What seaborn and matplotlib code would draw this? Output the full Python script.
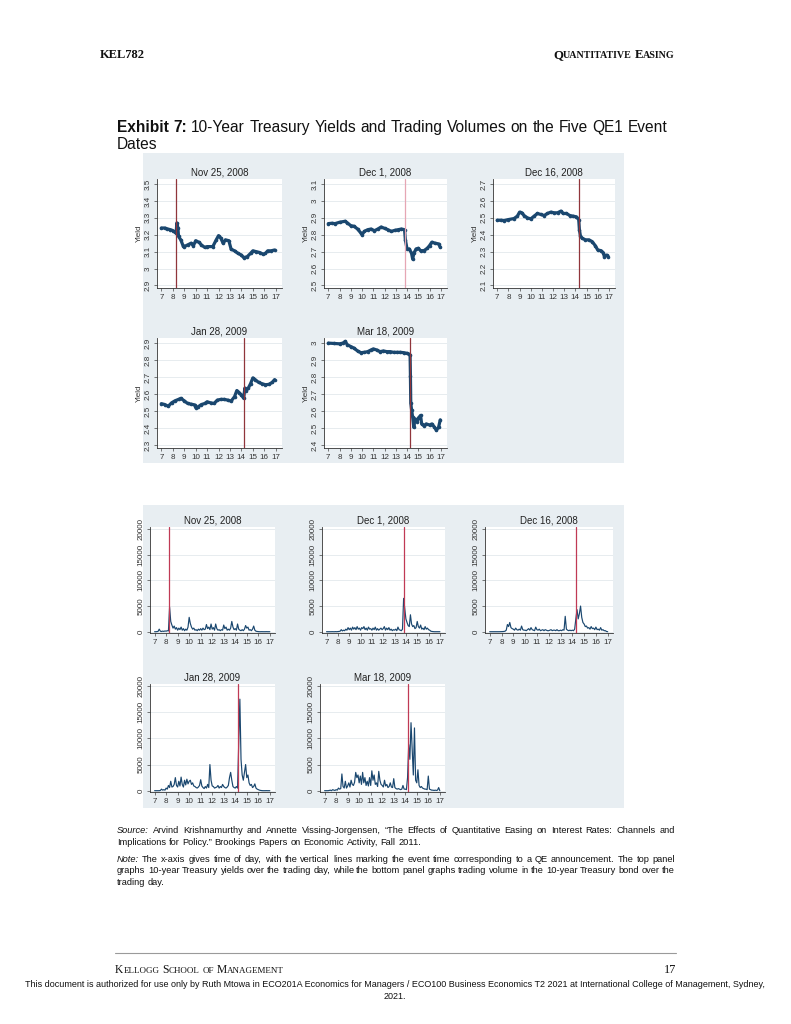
import numpy as np
import matplotlib.pyplot as plt
import seaborn as sns
from matplotlib.patches import Rectangle
from matplotlib.lines import Line2D

sns.set_style('white')
plt.rcParams['font.family'] = ['Liberation Sans', 'DejaVu Sans']

dates = ['Nov 25, 2008', 'Dec 1, 2008', 'Dec 16, 2008', 'Jan 28, 2009', 'Mar 18, 2009']
event_times = [8.28, 13.8, 14.33, 14.27, 14.27]
yield_lows = [2.9, 2.5, 2.1, 2.3, 2.4]

nov25_time = [7.0, 7.3, 7.5, 7.8, 8.0, 8.2, 8.3, 8.35, 8.45, 8.5, 8.7, 8.9, 9.0, 9.3, 9.6, 9.8,
              10.0, 10.3, 10.5, 10.8, 11.0, 11.5, 11.8, 12.0, 12.2, 12.4, 12.6, 12.9, 13.1, 13.4,
              13.7, 14.0, 14.2, 14.5, 14.8, 15.0, 15.3, 15.6, 15.9, 16.1, 16.3, 16.6, 16.9]
nov25_yield = [3.24, 3.24, 3.235, 3.23, 3.225, 3.215, 3.21, 3.27, 3.24, 3.19, 3.17, 3.135, 3.13,
               3.14, 3.15, 3.135, 3.165, 3.155, 3.14, 3.125, 3.13, 3.13, 3.17, 3.195, 3.18, 3.15,
               3.17, 3.165, 3.115, 3.105, 3.09, 3.08, 3.065, 3.07, 3.09, 3.105, 3.10, 3.095, 3.085,
               3.09, 3.105, 3.105, 3.11]

dec1_time = [7.0, 7.3, 7.6, 8.0, 8.5, 8.7, 9.0, 9.3, 9.6, 9.9, 10.0, 10.2, 10.5, 10.8, 11.1, 11.4,
             11.7, 12.0, 12.3, 12.6, 12.9, 13.2, 13.5, 13.78, 13.85, 14.0, 14.2, 14.4, 14.5, 14.6,
             14.8, 15.0, 15.2, 15.5, 15.8, 16.0, 16.2, 16.5, 16.8, 16.95]
dec1_yield = [2.866, 2.868, 2.866, 2.874, 2.88, 2.87, 2.854, 2.85, 2.834, 2.81, 2.80, 2.82, 2.83,
              2.834, 2.824, 2.834, 2.846, 2.838, 2.83, 2.82, 2.826, 2.83, 2.834, 2.83, 2.77,
              2.716, 2.716, 2.69, 2.656, 2.69, 2.716, 2.72, 2.706, 2.706, 2.72, 2.736, 2.756, 2.75,
              2.746, 2.726]

dec16_time = [7.0, 7.3, 7.6, 8.0, 8.5, 8.8, 9.0, 9.2, 9.4, 9.7, 10.0, 10.3, 10.6, 10.9, 11.2,
              11.5, 11.8, 12.1, 12.4, 12.7, 12.9, 13.2, 13.5, 13.8, 14.1, 14.3, 14.36, 14.45,
              14.6, 14.9, 15.2, 15.5, 15.8, 16.0, 16.3, 16.5, 16.6, 16.8, 16.95]
dec16_yield = [2.486, 2.486, 2.484, 2.49, 2.496, 2.51, 2.534, 2.53, 2.514, 2.50, 2.494, 2.51,
               2.526, 2.52, 2.514, 2.526, 2.534, 2.53, 2.53, 2.54, 2.526, 2.526, 2.514, 2.51,
               2.506, 2.49, 2.43, 2.394, 2.38, 2.37, 2.37, 2.36, 2.334, 2.31, 2.306, 2.294, 2.27,
               2.28, 2.27]

jan28_time = [7.0, 7.3, 7.6, 7.9, 8.2, 8.5, 8.7, 9.0, 9.3, 9.6, 9.9, 10.0, 10.2, 10.5, 10.8, 11.0,
              11.3, 11.6, 11.9, 12.2, 12.5, 12.8, 13.1, 13.4, 13.6, 13.8, 14.0, 14.2, 14.3, 14.4,
              14.6, 14.8, 15.0, 15.2, 15.5, 15.8, 16.1, 16.4, 16.7, 16.9]
jan28_yield = [2.545, 2.54, 2.53, 2.55, 2.562, 2.57, 2.576, 2.562, 2.546, 2.542, 2.538, 2.522,
               2.526, 2.54, 2.546, 2.556, 2.55, 2.546, 2.566, 2.57, 2.57, 2.566, 2.56, 2.586,
               2.622, 2.61, 2.596, 2.576, 2.636, 2.62, 2.636, 2.662, 2.696, 2.686, 2.67, 2.662,
               2.656, 2.658, 2.67, 2.686]

mar18_time = [7.0, 7.5, 8.0, 8.3, 8.5, 8.7, 9.0, 9.3, 9.6, 9.9, 10.2, 10.5, 10.8, 11.0, 11.3,
              11.6, 11.9, 12.2, 12.5, 12.8, 13.1, 13.4, 13.7, 14.0, 14.2, 14.27, 14.3, 14.33,
              14.4, 14.5, 14.6, 14.7, 14.9, 15.0, 15.2, 15.3, 15.5, 15.7, 16.0, 16.2, 16.4, 16.6,
              16.8, 16.95]
mar18_yield = [3.00, 2.998, 2.996, 3.00, 3.01, 2.99, 2.98, 2.97, 2.954, 2.944, 2.946, 2.95, 2.96,
               2.966, 2.96, 2.95, 2.954, 2.95, 2.95, 2.946, 2.946, 2.946, 2.944, 2.94, 2.934,
               2.93, 2.81, 2.65, 2.61, 2.565, 2.506, 2.556, 2.54, 2.56, 2.576, 2.526, 2.516,
               2.526, 2.52, 2.526, 2.51, 2.49, 2.506, 2.55]

# trading volume sampled every 6 minutes, 7:00 .. 17:00
vol_time = np.linspace(7, 17, 101)
nov25_vol = [0, 0, 20, 60, 500, 100, 40, 120, 60, 150,
             100, 200, 150, 4800, 2000, 1300, 700, 1100, 500, 800,
             300, 700, 400, 900, 300, 600, 200, 500, 300, 900,
             2800, 1600, 900, 500, 700, 300, 400, 200, 500, 300,
             600, 300, 700, 400, 500, 1400, 600, 900, 400, 1500,
             500, 800, 300, 1500, 600, 300, 400, 200, 400, 300,
             1300, 600, 900, 300, 500, 300, 700, 2000, 900, 400,
             600, 300, 1500, 500, 300, 200, 400, 200, 500, 1200,
             700, 900, 300, 400, 200, 500, 1100, 300, 100, 50,
             20, 0, 0, 10, 0, 0, 0, 10, 0, 0, 0]
dec1_vol = [0, 0, 0, 0, 0, 10, 0, 0, 20, 0,
            30, 50, 100, 400, 150, 300, 200, 500, 300, 800,
            400, 700, 300, 900, 500, 800, 400, 1000, 500, 700,
            300, 800, 600, 1000, 400, 700, 300, 900, 500, 600,
            300, 700, 400, 900, 300, 600, 300, 500, 700, 400,
            600, 1000, 300, 700, 400, 800, 300, 500, 200, 400,
            300, 500, 200, 900, 400, 300, 200, 500, 6500, 4500,
            2500, 1800, 1200, 1000, 3300, 1500, 1000, 1200, 600, 800,
            2000, 1000, 700, 1300, 500, 700, 400, 1000, 500, 700,
            400, 300, 100, 50, 20, 0, 0, 0, 0, 0, 0]
dec16_vol = [0, 0, 0, 0, 0, 0, 0, 0, 0, 10,
             20, 30, 50, 100, 300, 1400, 1000, 1800, 800, 600,
             500, 300, 700, 400, 300, 500, 300, 1100, 400, 300,
             300, 200, 400, 600, 300, 800, 400, 300, 200, 900,
             400, 300, 500, 200, 300, 400, 200, 400, 300, 200,
             200, 300, 400, 200, 300, 300, 200, 400, 200, 200,
             300, 200, 400, 300, 3000, 500, 300, 200, 300, 200,
             300, 200, 500, 2500, 4300, 2500, 3500, 5000, 2800, 1800,
             1500, 1000, 1100, 700, 800, 500, 1000, 600, 700, 400,
             900, 400, 500, 300, 800, 300, 400, 200, 200, 50, 0]
jan28_vol = [0, 0, 0, 0, 0, 50, 300, 100, 200, 100,
             500, 300, 1000, 600, 1800, 700, 800, 1200, 2500, 1000,
             700, 1800, 900, 2600, 1200, 700, 2000, 1100, 2200, 1300,
             1800, 2000, 1200, 1500, 900, 800, 600, 500, 700, 1000,
             2100, 900, 600, 400, 800, 500, 1200, 600, 5000, 2000,
             900, 800, 500, 600, 700, 1000, 500, 800, 600, 1200,
             800, 600, 500, 700, 1000, 2500, 3500, 2000, 800, 600,
             500, 800, 500, 9000, 17500, 6000, 3000, 2000, 3500, 5000,
             2500, 3000, 1500, 1000, 1200, 600, 800, 1300, 500, 300,
             200, 100, 50, 20, 0, 0, 0, 10, 0, 0, 0]
mar18_vol = [0, 0, 0, 0, 50, 100, 0, 200, 100, 50,
             200, 100, 500, 300, 400, 3200, 800, 500, 1800, 500,
             900, 1500, 700, 2000, 1200, 1000, 1600, 3500, 2500, 3000,
             1500, 2800, 1200, 3500, 1500, 2500, 1000, 1800, 900, 2500,
             1000, 3800, 2000, 3000, 1200, 1500, 800, 3700, 2000, 1200,
             1000, 700, 2000, 900, 1200, 600, 800, 1500, 700, 600,
             2300, 600, 400, 300, 400, 300, 200, 300, 1000, 300,
             300, 200, 2500, 8800, 6000, 13000, 8000, 3000, 12000, 2000,
             1500, 4000, 1000, 600, 800, 500, 400, 300, 300, 200,
             2800, 300, 200, 100, 100, 50, 100, 50, 100, 600, 0]

yield_times = [nov25_time, dec1_time, dec16_time, jan28_time, mar18_time]
yield_values = [nov25_yield, dec1_yield, dec16_yield, jan28_yield, mar18_yield]
volumes = [nov25_vol, dec1_vol, dec16_vol, jan28_vol, mar18_vol]

# ---- page layout (pixel boxes: left, top, right, bottom) ----
W, H = 791, 1024
NAVY = '#1a476f'
EVENT = '#90353b'
BG = '#e8eef2'
yield_boxes = [(157, 179, 282, 288), (324, 179, 447, 288), (493, 179, 615, 288),
               (157, 338, 282, 448), (324, 338, 447, 448)]
vol_boxes = [(150, 527, 275, 633), (322, 527, 445, 633), (485, 527, 613, 633),
             (150, 684, 275, 792), (320, 684, 445, 792)]

fig = plt.figure(figsize=(W / 100, H / 100), dpi=100)
fig.patch.set_facecolor('white')


def px_axes(l, t, r, b):
    return fig.add_axes([l / W, 1 - b / H, (r - l) / W, (b - t) / H])


def style_axes(ax, title):
    sns.despine(ax=ax)
    for s in ['left', 'bottom']:
        ax.spines[s].set_color('#333333')
        ax.spines[s].set_linewidth(0.6)
    ax.set_facecolor('white')
    ax.yaxis.grid(True, color='#e3e9ed', lw=0.6)
    ax.xaxis.grid(False)
    ax.set_axisbelow(True)
    ax.set_xticks(range(7, 18))
    ax.set_xticklabels([str(h) for h in range(7, 18)])
    ax.tick_params(axis='both', length=2.5, width=0.5, color='#444444', labelsize=5.8,
                   labelcolor='#333333', pad=1.5, direction='out', left=True, bottom=True)
    for lab in ax.get_yticklabels():
        lab.set_rotation(90)
        lab.set_va('center')
    ax.set_xlabel('')
    ax.set_title(title, fontsize=7, color='#222222', pad=2.5)


for rect in [(143, 153, 624, 463), (143, 505, 624, 808)]:
    l, t, r, b = rect
    fig.add_artist(Rectangle((l / W, 1 - b / H), (r - l) / W, (b - t) / H,
                             transform=fig.transFigure, facecolor=BG, edgecolor='none', zorder=-1))

# top panel: yields
for i, d in enumerate(dates):
    ax = px_axes(*yield_boxes[i])
    sns.lineplot(x=yield_times[i], y=yield_values[i], ax=ax, color=NAVY, lw=2.3,
                 marker='o', ms=2.6, mew=0, sort=False)
    ev_col = '#e6a6b4' if i == 1 else EVENT
    ax.axvline(event_times[i], color=ev_col, lw=0.9)
    lo = yield_lows[i]
    ticks = np.round(lo + 0.1 * np.arange(7), 1)
    ax.set_yticks(ticks)
    ax.set_yticklabels([f'{v:g}' for v in ticks])
    ax.set_ylim(lo - 0.015, lo + 0.63)
    ax.set_xlim(6.62, 17.55)
    style_axes(ax, d)
    ax.set_ylabel('Yield', fontsize=5.8, color='#333333', labelpad=1)

# bottom panel: trading volumes
for i, d in enumerate(dates):
    ax = px_axes(*vol_boxes[i])
    sns.lineplot(x=vol_time, y=volumes[i], ax=ax, color=NAVY, lw=0.85)
    ax.axvline(event_times[i], color='#c03a55', lw=0.9)
    ticks = [0, 5000, 10000, 15000, 20000]
    ax.set_yticks(ticks)
    ax.set_yticklabels([str(v) for v in ticks])
    ax.set_ylim(-250, 20400)
    ax.set_xlim(6.6, 17.45)
    style_axes(ax, d)
    ax.set_ylabel('')

# ---- page text ----
renderer = fig.canvas.get_renderer()


def put_words(words, y, x0, x1=None, size=6.5, gap=None, family=None, color='#111111'):
    arts = []
    for w, style, weight, sz in words:
        kw = dict(fontsize=sz or size, fontstyle=style, fontweight=weight, va='baseline',
                  color=color)
        if family:
            kw['family'] = family
        arts.append(fig.text(0, 1 - y / H, w, **kw))
    widths = [a.get_window_extent(renderer).width for a in arts]
    if gap is None:
        gap = 0.28 * size * 100 / 72
    if x1 is not None and len(arts) > 1:
        gap = (x1 - x0 - sum(widths)) / (len(arts) - 1)
    x = x0
    for a, w in zip(arts, widths):
        a.set_x(x / W)
        x += w + gap
    return x - gap


def words_of(text, style='normal', weight='normal', size=None):
    return [(w, style, weight, size) for w in text.split()]


def small_caps(text, y, x0, size, small, family, weight='normal', right=False):
    # capitals at full size, lower-case letters as smaller capitals
    pieces = []
    for word in text.split():
        if word[0].isupper():
            pieces.append([(word[0], 'normal', weight, size), (word[1:].upper(), 'normal', weight, small)])
        else:
            pieces.append([(word.upper(), 'normal', weight, small)])
    widths = []
    space = 0.25 * size * 100 / 72
    for p in pieces:
        arts = [fig.text(0, 0, s, fontsize=sz, fontweight=wt, family=family) for s, _, wt, sz in p]
        widths.append(sum(a.get_window_extent(renderer).width for a in arts))
        for a in arts:
            a.remove()
    total = sum(widths) + space * (len(pieces) - 1)
    x = x0 - total if right else x0
    for p, wsum in zip(pieces, widths):
        put_words(p, y, x, gap=0, size=size, family=family)
        x += wsum + space


fig.text(100 / W, 1 - 58 / H, 'KEL782', fontsize=9, fontweight='bold',
         family='Liberation Serif', va='baseline', color='#111111')
small_caps('Quantitative Easing', 58, 675, 9.2, 7.2, 'Liberation Serif', weight='bold', right=True)

TS = 11.2
put_words([('Exhibit', 'normal', 'bold', TS), ('7:', 'normal', 'bold', TS)] +
          words_of('10-Year Treasury Yields and Trading Volumes on the Five QE1 Event', size=TS),
          132, 117, size=TS)
put_words(words_of('Dates', size=TS), 149, 117, size=TS)

NS = 6.7
put_words([('Source:', 'italic', 'normal', None)] +
          words_of('Arvind Krishnamurthy and Annette Vissing-Jorgensen, \u201cThe Effects of '
                   'Quantitative Easing on Interest Rates: Channels and'), 833, 117, 675, size=NS)
put_words(words_of('Implications for Policy.\u201d Brookings Papers on Economic Activity, Fall 2011.'),
          845, 117, size=NS)
put_words([('Note:', 'italic', 'normal', None)] +
          words_of('The x-axis gives time of day, with the vertical lines marking the event time '
                   'corresponding to a QE announcement. The top panel'), 862, 117, 675, size=NS)
put_words(words_of('graphs 10-year Treasury yields over the trading day, while the bottom panel '
                   'graphs trading volume in the 10-year Treasury bond over the'), 873, 117, 675,
          size=NS)
put_words(words_of('trading day.'), 885, 117, size=NS)

fig.add_artist(Line2D([115 / W, 676 / W], [1 - 953 / H, 1 - 953 / H], transform=fig.transFigure,
                      color='#9a9a9a', lw=0.8))
small_caps('Kellogg School of Management', 973, 115, 8.4, 6.5, 'Liberation Serif')
fig.text(676 / W, 1 - 973 / H, '17', fontsize=8.8, family='Liberation Serif', ha='right',
         va='baseline', color='#111111')
fig.text(395 / W, 1 - 987 / H, 'This document is authorized for use only by Ruth Mtowa in ECO201A '
         'Economics for Managers / ECO100 Business Economics T2 2021 at International College of '
         'Management, Sydney,', fontsize=6.5, ha='center', va='baseline', color='#111111')
fig.text(395 / W, 1 - 999 / H, '2021.', fontsize=6.5, ha='center', va='baseline', color='#111111')

fig.savefig('out.png', dpi=100, facecolor='white')
